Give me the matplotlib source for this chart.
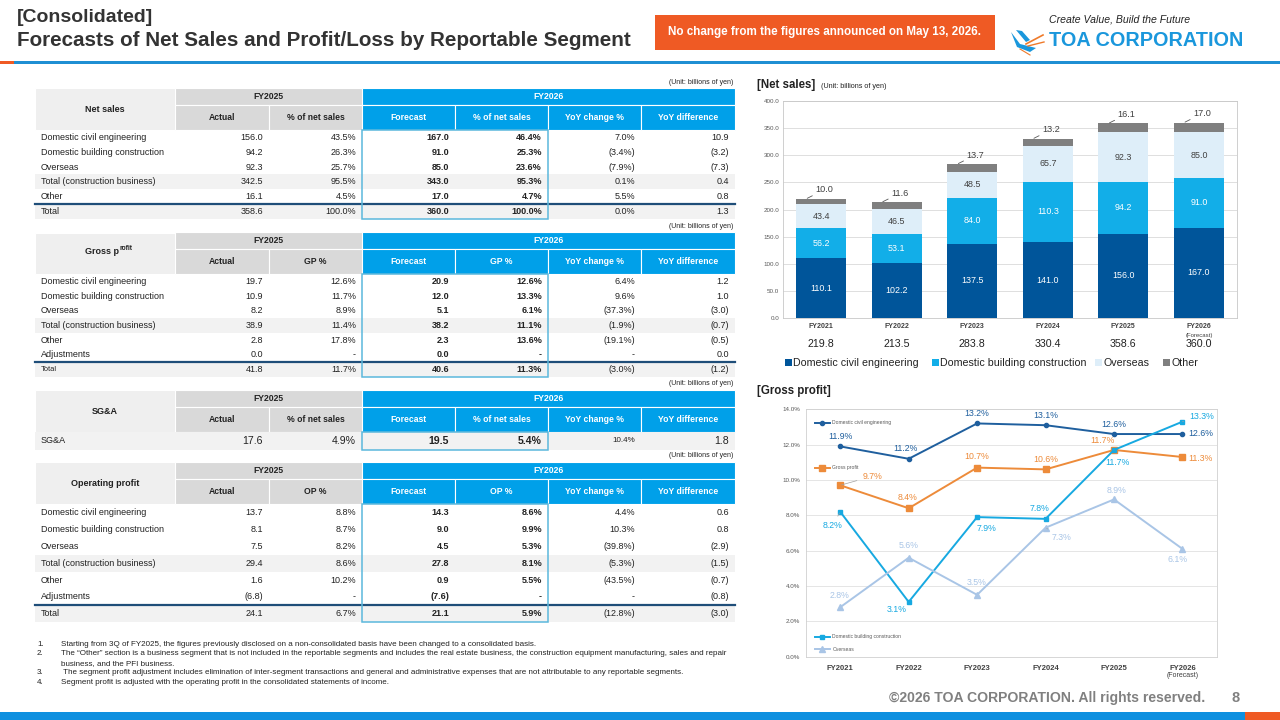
import matplotlib
matplotlib.use("Agg")
import matplotlib.pyplot as plt
from matplotlib.patches import Rectangle, Polygon
from matplotlib.lines import Line2D
import numpy as np

plt.rcParams['font.family'] = ['Liberation Sans', 'DejaVu Sans']

# ---------------- data ----------------
years = ["FY2021", "FY2022", "FY2023", "FY2024", "FY2025", "FY2026"]

sales_civil = [110.1, 102.2, 137.5, 141.0, 156.0, 167.0]
sales_building = [56.2, 53.1, 84.0, 110.3, 94.2, 91.0]
sales_overseas = [43.4, 46.5, 48.5, 65.7, 92.3, 85.0]
sales_other = [10.0, 11.6, 13.7, 13.2, 16.1, 17.0]
sales_total = [219.8, 213.5, 283.8, 330.4, 358.6, 360.0]

gp_civil = [11.9, 11.2, 13.2, 13.1, 12.6, 12.6]
gp_all = [9.7, 8.4, 10.7, 10.6, 11.7, 11.3]
gp_building = [8.2, 3.1, 7.9, 7.8, 11.7, 13.3]
gp_overseas = [2.8, 5.6, 3.5, 7.3, 8.9, 6.1]

seg_labels = ["Domestic civil engineering", "Domestic building construction", "Overseas",
              "Total (construction business)", "Other"]

ns_heads = ["Actual", "% of net sales", "Forecast", "% of net sales", "YoY change %", "YoY difference"]
ns_labels = seg_labels + ["Total"]
ns_rows = [
    ["156.0", "43.5%", "167.0", "46.4%", "7.0%", "10.9"],
    ["94.2", "26.3%", "91.0", "25.3%", "(3.4%)", "(3.2)"],
    ["92.3", "25.7%", "85.0", "23.6%", "(7.9%)", "(7.3)"],
    ["342.5", "95.5%", "343.0", "95.3%", "0.1%", "0.4"],
    ["16.1", "4.5%", "17.0", "4.7%", "5.5%", "0.8"],
    ["358.6", "100.0%", "360.0", "100.0%", "0.0%", "1.3"],
]

gp_heads = ["Actual", "GP %", "Forecast", "GP %", "YoY change %", "YoY difference"]
gp_labels = seg_labels + ["Adjustments", "Total"]
gp_rows = [
    ["19.7", "12.6%", "20.9", "12.6%", "6.4%", "1.2"],
    ["10.9", "11.7%", "12.0", "13.3%", "9.6%", "1.0"],
    ["8.2", "8.9%", "5.1", "6.1%", "(37.3%)", "(3.0)"],
    ["38.9", "11.4%", "38.2", "11.1%", "(1.9%)", "(0.7)"],
    ["2.8", "17.8%", "2.3", "13.6%", "(19.1%)", "(0.5)"],
    ["0.0", "-", "0.0", "-", "-", "0.0"],
    ["41.8", "11.7%", "40.6", "11.3%", "(3.0%)", "(1.2)"],
]

sga_heads = ns_heads
sga_labels = ["SG&A"]
sga_rows = [["17.6", "4.9%", "19.5", "5.4%", "10.4%", "1.8"]]

op_heads = ["Actual", "OP %", "Forecast", "OP %", "YoY change %", "YoY difference"]
op_labels = seg_labels + ["Adjustments", "Total"]
op_rows = [
    ["13.7", "8.8%", "14.3", "8.6%", "4.4%", "0.6"],
    ["8.1", "8.7%", "9.0", "9.9%", "10.3%", "0.8"],
    ["7.5", "8.2%", "4.5", "5.3%", "(39.8%)", "(2.9)"],
    ["29.4", "8.6%", "27.8", "8.1%", "(5.3%)", "(1.5)"],
    ["1.6", "10.2%", "0.9", "5.5%", "(43.5%)", "(0.7)"],
    ["(6.8)", "-", "(7.6)", "-", "-", "(0.8)"],
    ["24.1", "6.7%", "21.1", "5.9%", "(12.8%)", "(3.0)"],
]

notes = [
    "Starting from 3Q of FY2025, the figures previously disclosed on a non-consolidated basis have been changed to a consolidated basis.",
    "The \u201cOther\u201d section is a business segment that is not included in the reportable segments and includes the real estate business, the construction equipment manufacturing, sales and repair",
    "business, and the PFI business.",
    " The segment profit adjustment includes elimination of inter-segment transactions and general and administrative expenses that are not attributable to any reportable segments.",
    "Segment profit is adjusted with the operating profit in the consolidated statements of income.",
]

# ---------------- styles ----------------
W, H = 1280, 720
CYAN = "#00a0e9"
GREY_HEAD = "#d9d9d9"
LABEL_HEAD = "#efefef"
ROW_GREY = "#f2f2f2"
NAVY = "#1f4e79"
BOX = "#5bb8dc"
TXT = "#222222"
C_CIVIL = "#00559a"
C_BUILD = "#12aee8"
C_OVER = "#deeef9"
C_OTHER = "#7f7f7f"
L_CIVIL = "#1f5f9e"
L_GP = "#ed8b3a"
L_BUILD = "#17a9e1"
L_OVER = "#a9c5e6"

fig = plt.figure(figsize=(12.8, 7.2), dpi=100)
fig.patch.set_facecolor("white")


def fx(x):
    return x / W


def fy(y):
    return 1 - y / H


def frect(x0, y0, x1, y1, **kw):
    r = Rectangle((fx(x0), fy(y1)), (x1 - x0) / W, (y1 - y0) / H,
                  transform=fig.transFigure, **kw)
    fig.add_artist(r)
    return r


def ftext(x, y, s, **kw):
    return fig.text(fx(x), fy(y), s, **kw)


def fline(x0, y0, x1, y1, **kw):
    fig.add_artist(Line2D([fx(x0), fx(x1)], [fy(y0), fy(y1)], transform=fig.transFigure, **kw))


# ---------------- header / footer ----------------
ftext(17, 18, "[Consolidated]", fontsize=14, fontweight="bold", color="#333333", va="center")
ftext(17, 40, "Forecasts of Net Sales and Profit/Loss by Reportable Segment", fontsize=14.9,
      fontweight="bold", color="#333333", va="center")
frect(655, 15, 995, 50, facecolor="#ef5a24", edgecolor="none")
ftext(825, 32.5, "No change from the figures announced on May 13, 2026.", fontsize=8.4,
      fontweight="bold", color="white", ha="center", va="center")
ftext(1049, 19, "Create Value, Build the Future", fontsize=7.6, style="italic", color="#222222", va="center")
ftext(1049, 41, "TOA CORPORATION", fontsize=14.3, fontweight="bold", color="#1a97dc", va="center")
# simple bird mark
fig.add_artist(Polygon([(fx(1011), fy(32)), (fx(1020), fy(44)), (fx(1036), fy(48)),
                        (fx(1030), fy(52)), (fx(1017), fy(47))], closed=True,
                       transform=fig.transFigure, facecolor="#1a97dc", edgecolor="none"))
fig.add_artist(Polygon([(fx(1016), fy(30)), (fx(1026), fy(42)), (fx(1030), fy(40)), (fx(1022), fy(31))],
                       closed=True, transform=fig.transFigure, facecolor="#1a97dc", edgecolor="none"))
fline(1026, 44, 1043, 35, color="#ef7a2a", lw=1.2)
fline(1028, 46, 1044, 42, color="#ef7a2a", lw=1.0)
fline(1020, 49, 1030, 55, color="#ef7a2a", lw=0.8)

frect(0, 61, 14, 64, facecolor="#ef5a24", edgecolor="none")
frect(14, 61, 1280, 64, facecolor="#1f8fd3", edgecolor="none")
frect(0, 711.5, 1245, 720, facecolor="#0e90e0", edgecolor="none")
frect(1245, 711.5, 1280, 720, facecolor="#ef5a24", edgecolor="none")
ftext(1205, 698, "\u00a92026 TOA CORPORATION. All rights reserved.", fontsize=10.1, fontweight="bold",
      color="#808080", ha="right", va="center")
ftext(1236, 698, "8", fontsize=10.5, fontweight="bold", color="#808080", ha="center", va="center")

# ---------------- tables ----------------
EDGES = [35, 175, 269, 362, 455, 548, 641, 735]
TFS = 6.5


def draw_table(name, heads, labels, rows, y_top, y_mid, y_head, row_h, grey,
               label_fs=None, val_fs=None):
    n = len(rows)
    y_bot = y_head + n * row_h
    ftext(733, y_top - 6.5, "(Unit: billions of yen)", fontsize=5, color=TXT, ha="right", va="center")
    frect(EDGES[0], y_top, EDGES[1], y_head, facecolor=LABEL_HEAD, edgecolor="white", lw=0.8)
    frect(EDGES[1], y_top, EDGES[3], y_mid, facecolor=GREY_HEAD, edgecolor="white", lw=0.8)
    frect(EDGES[3], y_top, EDGES[7], y_mid, facecolor=CYAN, edgecolor="white", lw=0.8)
    ftext((EDGES[1] + EDGES[3]) / 2, (y_top + y_mid) / 2, "FY2025", fontsize=6.2, fontweight="bold",
          color=TXT, ha="center", va="center")
    ftext((EDGES[3] + EDGES[7]) / 2, (y_top + y_mid) / 2, "FY2026", fontsize=6.2, fontweight="bold",
          color="white", ha="center", va="center")
    if name:
        ftext((EDGES[0] + EDGES[1]) / 2, (y_top + y_head) / 2, name, fontsize=6.5, fontweight="bold",
              color=TXT, ha="center", va="center")
    for j in range(6):
        fc = GREY_HEAD if j < 2 else CYAN
        frect(EDGES[j + 1], y_mid, EDGES[j + 2], y_head, facecolor=fc, edgecolor="white", lw=0.8)
        ftext((EDGES[j + 1] + EDGES[j + 2]) / 2, (y_mid + y_head) / 2 + 0.5, heads[j], fontsize=6.2,
              fontweight="bold", color=TXT if j < 2 else "white", ha="center", va="center")
    for i, (lab, vals) in enumerate(zip(labels, rows)):
        yc = y_head + (i + 0.5) * row_h
        if i in grey:
            frect(EDGES[0], y_head + i * row_h, EDGES[7], y_head + (i + 1) * row_h,
                  facecolor=ROW_GREY, edgecolor="none")
        lfs = label_fs[i] if label_fs else TFS
        ftext(41, yc, lab, fontsize=lfs, color=TXT, ha="left", va="center")
        for j, v in enumerate(vals):
            fs = val_fs[j] if val_fs else TFS
            ftext(EDGES[j + 2] - 6, yc, v, fontsize=fs, color=TXT, ha="right", va="center",
                  fontweight="bold" if j in (2, 3) else "normal")
    if n > 1:
        fline(EDGES[0], y_head + (n - 1) * row_h, EDGES[7], y_head + (n - 1) * row_h, color=NAVY, lw=1.6)
    frect(EDGES[3], y_head, EDGES[5], y_bot, fill=False, edgecolor=BOX, lw=1.1, zorder=5)


draw_table("Net sales", ns_heads, ns_labels, ns_rows, 88.5, 105, 130, 14.8, [3, 5])
draw_table("", gp_heads, gp_labels, gp_rows, 232.5, 249, 274, 14.7, [3, 6],
           label_fs=[TFS] * 6 + [5.4])
ftext(119, 252, "Gross p", fontsize=6.5, fontweight="bold", color=TXT, ha="right", va="center")
ftext(119.3, 249, "rofit", fontsize=4.8, fontweight="bold", color=TXT, ha="left", va="center")
draw_table("SG&A", sga_heads, sga_labels, sga_rows, 390, 407, 432, 17.5, [0],
           val_fs=[7.6, 7.6, 7.6, 7.6, 5.8, 7.6])
draw_table("Operating profit", op_heads, op_labels, op_rows, 462, 479, 504, 16.9, [3, 6])

note_y = [644.3, 653.7, 663.3, 672.7, 682]
note_num = ["1.", "2.", "", "3.", "4."]
for y, num, s in zip(note_y, note_num, notes):
    ftext(37, y, num, fontsize=5.8, color=TXT, va="center")
    ftext(61, y, s, fontsize=5.8, color=TXT, va="center")

# ---------------- net sales bar chart ----------------
ftext(757, 85, "[Net sales]", fontsize=8.3, fontweight="bold", color="#222222", va="center")
ftext(821, 86, "(Unit: billions of yen)", fontsize=5.2, color="#222222", va="center")

axb = fig.add_axes([fx(783.3), fy(318.3), (1236.7 - 783.3) / W, (318.3 - 101) / H])
x = np.arange(len(years))
bottom = np.zeros(len(years))
for vals, col, tcol in [(sales_civil, C_CIVIL, "white"), (sales_building, C_BUILD, "white"),
                        (sales_overseas, C_OVER, "#404040"), (sales_other, C_OTHER, None)]:
    vals = np.array(vals)
    axb.bar(x, vals, 0.66, bottom=bottom, color=col, zorder=3)
    for i in range(len(x)):
        if tcol:
            axb.text(x[i], bottom[i] + vals[i] / 2, f"{vals[i]:.1f}", color=tcol, fontsize=6.4,
                     ha="center", va="center", zorder=4)
        else:
            top = bottom[i] + vals[i]
            axb.annotate(f"{vals[i]:.1f}", xy=(x[i] - 0.2, top), xytext=(13, 6.5),
                         textcoords="offset points", fontsize=6.6, color="#404040",
                         ha="center", va="center",
                         arrowprops=dict(arrowstyle="-", color="#595959", lw=0.6, shrinkA=0, shrinkB=1))
    bottom = bottom + vals
axb.set_xlim(-0.5, 5.5)
axb.set_ylim(0, 400)
axb.set_yticks(np.arange(0, 401, 50))
axb.set_yticklabels([f"{v:.1f}" for v in np.arange(0, 401, 50)])
axb.tick_params(axis="y", labelsize=4.5, colors="#595959", length=0, pad=3)
axb.set_xticks([])
axb.grid(axis="y", color="#d9d9d9", lw=0.6, zorder=0)
for s in axb.spines.values():
    s.set_color("#c8c8c8")
    s.set_linewidth(0.6)
tr = axb.get_xaxis_transform()
for i in range(len(years)):
    axb.text(x[i], -0.039, years[i], transform=tr, fontsize=5, fontweight="bold", color="#404040",
             ha="center", va="center")
    axb.text(x[i], -0.118, f"{sales_total[i]:.1f}", transform=tr, fontsize=7.7, color="#222222",
             ha="center", va="center")
axb.text(x[-1], -0.08, "(Forecast)", transform=tr, fontsize=4.3, color="#404040", ha="center", va="center")

leg_items = [(788, C_CIVIL, "Domestic civil engineering"), (935.5, C_BUILD, "Domestic building construction"),
             (1098, C_OVER, "Overseas"), (1166, C_OTHER, "Other")]
for lx, col, lab in leg_items:
    frect(lx - 3.5, 359, lx + 3.5, 366, facecolor=col, edgecolor="none")
    ftext(lx + 5, 362.5, lab, fontsize=7.7, color="#222222", va="center")

# ---------------- gross profit line chart ----------------
ftext(757, 391, "[Gross profit]", fontsize=8.3, fontweight="bold", color="#222222", va="center")
axl = fig.add_axes([fx(806), fy(656.7), (1216.7 - 806) / W, (656.7 - 409.3) / H])
series = [
    (gp_civil, L_CIVIL, "o", 3.0, "Domestic civil engineering",
     [(0, -10), (-3, -10), (0, -10), (0, -10), (0, -10), (18, -1)], []),
    (gp_all, L_GP, "s", 4.0, "Gross profit",
     [(32, -9), (-1, -11), (0, -11), (0, -10), (-12, -9), (18, 1)], [0, 4]),
    (gp_building, L_BUILD, "s", 3.0, "Domestic building construction",
     [(-8, 14), (-12, 8), (9, 11), (-6, -10), (3, 13), (19, -5)], [0, 5]),
    (gp_overseas, L_OVER, "^", 4.0, "Overseas",
     [(-1, -12), (0, -12), (-1, -12), (16, 10), (2, -9), (-5, 11)], [3]),
]
for vals, col, mk, ms, name, offs, leaders in series:
    axl.plot(x, vals, color=col, lw=1.4, marker=mk, ms=ms, zorder=3)
    for i, v in enumerate(vals):
        dx, dy = offs[i]
        ap = None
        if i in leaders:
            ap = dict(arrowstyle="-", color="#a0a0a0", lw=0.5, shrinkA=2, shrinkB=1)
        axl.annotate(f"{v:.1f}%", xy=(x[i], v), xytext=(dx * 0.72, -dy * 0.72), textcoords="offset points",
                     fontsize=6.3, color=col, ha="center", va="center", arrowprops=ap, zorder=4)

leg_pos = [0.945, 0.763, 0.081, 0.031]
for (vals, col, mk, ms, name, offs, leaders), ly in zip(series, leg_pos):
    axl.plot([0.022, 0.058], [ly, ly], transform=axl.transAxes, color=col, lw=1.4, clip_on=False)
    axl.plot([0.04], [ly], transform=axl.transAxes, color=col, marker=mk, ms=ms, clip_on=False)
    axl.text(0.064, ly, name, transform=axl.transAxes, fontsize=3.6, color="#595959", va="center")

axl.set_xlim(-0.5, 5.5)
axl.set_ylim(0, 14)
axl.set_yticks(np.arange(0, 15, 2))
axl.set_yticklabels([f"{v:.1f}%" for v in np.arange(0, 15, 2)])
axl.tick_params(axis="y", labelsize=4.5, colors="#595959", length=0, pad=4)
axl.set_xticks([])
axl.grid(axis="y", color="#e0e0e0", lw=0.6, zorder=0)
for s in axl.spines.values():
    s.set_color("#d0d0d0")
    s.set_linewidth(0.6)
trl = axl.get_xaxis_transform()
for i in range(len(years)):
    axl.text(x[i], -0.048, years[i], transform=trl, fontsize=5.5, fontweight="bold", color="#404040",
             ha="center", va="center")
axl.text(x[-1], -0.078, "(Forecast)", transform=trl, fontsize=5, color="#404040", ha="center", va="center")

fig.savefig("out.png", dpi=100)
